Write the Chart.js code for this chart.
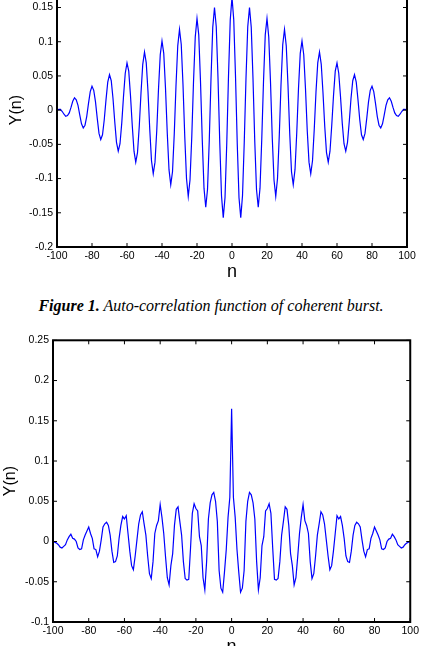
<!DOCTYPE html>
<html lang="en">
<head>
  <meta charset="UTF-8" />
  <title>Auto-correlation functions</title>
  <script src="https://cdn.jsdelivr.net/npm/chart.js@4.4.1/dist/chart.umd.min.js"></script>
  <style>
    html, body {margin: 0; padding: 0; background: #fff; width: 422px; height: 646px; overflow: hidden; position: relative;}
    .box {position: absolute; left: 0;}
    #topBox {top: -37px;}
    #bottomBox {top: 330px;}
    #caption {position: absolute; top: 296px; left: 0; width: 422px; text-align: center;
      font: italic 16px/19px "Liberation Serif", "Times New Roman", serif; color: #000;}
    #caption b {font-weight: bold;}
  </style>
</head>
<body>
  <div class="box" id="topBox"><canvas id="topChart" width="422" height="325"></canvas></div>
  <div id="caption"><b>Figure 1.</b> Auto-correlation function of coherent burst.</div>
  <div class="box" id="bottomBox"><canvas id="bottomChart" width="422" height="333"></canvas></div>

  <script>
    // tick values
    const xTicks = [-100, -80, -60, -40, -20, 0, 20, 40, 60, 80, 100];
    const yTicksTop = [-0.2, -0.15, -0.1, -0.05, 0, 0.05, 0.1, 0.15, 0.2];
    const yTicksBottom = [-0.1, -0.05, 0, 0.05, 0.1, 0.15, 0.2, 0.25];

    // lag n = -100 .. 100
    const lags = Array.from({length: 201}, (_, i) => i - 100);

    // Figure 1: coherent burst (n = -100 .. 100)
    const burstValues = [
      0.000, 0.001, 0.001, -0.002, -0.006, -0.009, -0.008, -0.004, 0.004, 0.013,
      0.018, 0.015, 0.007, -0.007, -0.020, -0.026, -0.022, -0.009, 0.010, 0.027,
      0.035, 0.029, 0.012, -0.012, -0.034, -0.043, -0.036, -0.014, 0.015, 0.041,
      0.052, 0.043, 0.017, -0.017, -0.047, -0.060, -0.049, -0.019, 0.020, 0.054,
      0.069, 0.057, 0.021, -0.022, -0.060, -0.076, -0.062, -0.024, 0.025, 0.067,
      0.085, 0.069, 0.027, -0.028, -0.074, -0.093, -0.076, -0.030, 0.031, 0.081,
      0.101, 0.083, 0.032, -0.033, -0.087, -0.109, -0.090, -0.035, 0.036, 0.094,
      0.118, 0.096, 0.037, -0.038, -0.100, -0.126, -0.102, -0.040, 0.041, 0.107,
      0.134, 0.110, 0.042, -0.043, -0.114, -0.142, -0.116, -0.045, 0.046, 0.121,
      0.150, 0.122, 0.047, -0.047, -0.125, -0.157, -0.128, -0.049, 0.050, 0.132,
      0.165,
      0.132, 0.050, -0.049, -0.128, -0.157, -0.125, -0.047, 0.047, 0.122, 0.150,
      0.121, 0.046, -0.045, -0.116, -0.142, -0.114, -0.043, 0.042, 0.110, 0.134,
      0.107, 0.041, -0.040, -0.102, -0.126, -0.100, -0.038, 0.037, 0.096, 0.118,
      0.094, 0.036, -0.035, -0.090, -0.109, -0.087, -0.033, 0.032, 0.083, 0.101,
      0.081, 0.031, -0.030, -0.076, -0.093, -0.074, -0.028, 0.027, 0.069, 0.085,
      0.067, 0.025, -0.024, -0.062, -0.076, -0.060, -0.022, 0.021, 0.057, 0.069,
      0.054, 0.020, -0.019, -0.049, -0.060, -0.047, -0.017, 0.017, 0.043, 0.052,
      0.041, 0.015, -0.014, -0.036, -0.043, -0.034, -0.012, 0.012, 0.029, 0.035,
      0.027, 0.010, -0.009, -0.022, -0.026, -0.020, -0.007, 0.007, 0.015, 0.018,
      0.013, 0.004, -0.004, -0.008, -0.009, -0.006, -0.002, 0.001, 0.001, 0.000
    ];

    // second figure (n = -100 .. 100)
    const secondValues = [
      0.000, -0.001, -0.002, -0.004, -0.007, -0.008, -0.006, -0.004, 0.002, 0.006,
      0.009, 0.004, 0.003, 0.000, -0.008, -0.010, -0.009, 0.002, 0.008, 0.013,
      0.018, 0.010, 0.004, -0.009, -0.010, -0.019, -0.012, 0.002, 0.018, 0.022,
      0.024, 0.020, 0.008, -0.012, -0.026, -0.025, -0.018, 0.004, 0.020, 0.031,
      0.028, 0.032, 0.010, -0.012, -0.030, -0.035, -0.018, 0.002, 0.022, 0.033,
      0.037, 0.022, 0.008, -0.018, -0.040, -0.046, -0.025, 0.010, 0.020, 0.026,
      0.046, 0.030, 0.010, -0.019, -0.045, -0.054, -0.030, -0.015, 0.020, 0.040,
      0.043, 0.025, 0.008, -0.025, -0.046, -0.048, -0.047, -0.008, 0.035, 0.047,
      0.041, 0.038, 0.006, -0.005, -0.045, -0.060, -0.025, 0.028, 0.048, 0.058,
      0.061, 0.050, 0.025, -0.036, -0.058, -0.063, -0.038, -0.010, 0.030, 0.055,
      0.165,
      0.055, 0.030, -0.010, -0.038, -0.063, -0.058, -0.036, 0.025, 0.050, 0.061,
      0.058, 0.048, 0.028, -0.025, -0.060, -0.045, -0.005, 0.006, 0.038, 0.041,
      0.047, 0.035, -0.008, -0.047, -0.048, -0.046, -0.025, 0.008, 0.025, 0.043,
      0.040, 0.020, -0.015, -0.030, -0.054, -0.045, -0.019, 0.010, 0.030, 0.046,
      0.026, 0.020, 0.010, -0.025, -0.046, -0.040, -0.018, 0.008, 0.022, 0.037,
      0.033, 0.022, 0.002, -0.018, -0.035, -0.030, -0.012, 0.010, 0.032, 0.028,
      0.031, 0.020, 0.004, -0.018, -0.025, -0.026, -0.012, 0.008, 0.020, 0.024,
      0.022, 0.018, 0.002, -0.012, -0.019, -0.010, -0.009, 0.004, 0.010, 0.018,
      0.013, 0.008, 0.002, -0.009, -0.010, -0.008, 0.000, 0.003, 0.004, 0.009,
      0.006, 0.002, -0.004, -0.006, -0.008, -0.007, -0.004, -0.002, -0.001, 0.000
    ];

    Chart.defaults.font.family = '"Liberation Sans", Arial, sans-serif';
    Chart.defaults.color = '#000';

    // matlab style box with inward ticks on all sides
    const boxPlugin = {
      id: 'boxFrame',
      afterDraw(chart) {
        const {ctx, chartArea: a, scales: {x, y}} = chart;
        ctx.save();
        ctx.strokeStyle = '#000';
        ctx.lineWidth = 1;
        ctx.beginPath();
        x.ticks.forEach(t => {
          const px = x.getPixelForValue(t.value);
          ctx.moveTo(px, a.bottom); ctx.lineTo(px, a.bottom - 4);
          ctx.moveTo(px, a.top); ctx.lineTo(px, a.top + 4);
        });
        y.ticks.forEach(t => {
          const py = y.getPixelForValue(t.value);
          ctx.moveTo(a.left, py); ctx.lineTo(a.left + 4, py);
          ctx.moveTo(a.right, py); ctx.lineTo(a.right - 4, py);
        });
        ctx.stroke();
        ctx.lineWidth = 2;
        ctx.strokeRect(a.left, a.top, a.right - a.left, a.bottom - a.top);
        ctx.restore();
      }
    };

    function drawChart(canvasId, values, yTicks, o) {
      return new Chart(document.getElementById(canvasId), {
        type: 'line',
        data: {
          datasets: [{
            data: lags.map((n, i) => ({x: n, y: values[i]})),
            borderColor: '#0000ff',
            borderWidth: 1.2,
            pointRadius: 0,
            tension: 0,
            fill: false
          }]
        },
        options: {
          responsive: false,
          animation: false,
          layout: {padding: {top: 10, right: o.right, left: 0, bottom: 0}},
          plugins: {legend: {display: false}, tooltip: {enabled: false}},
          scales: {
            x: {
              type: 'linear', min: -100, max: 100,
              afterBuildTicks: s => { s.ticks = xTicks.map(v => ({value: v})); },
              afterFit: s => { s.height = 41; },
              grid: {display: false, drawTicks: false},
              border: {display: false},
              ticks: {padding: 3, maxRotation: 0, autoSkip: false, font: {size: 10.5}},
              title: {display: true, text: 'n', font: {size: 18}, padding: {top: 0, bottom: 5}}
            },
            y: {
              min: yTicks[0], max: yTicks[yTicks.length - 1],
              afterBuildTicks: s => { s.ticks = yTicks.map(v => ({value: v})); },
              afterFit: s => { s.width = o.yWidth; },
              grid: {display: false, drawTicks: false},
              border: {display: false},
              ticks: {padding: 4, font: {size: 10.5}, callback: v => String(+v.toFixed(2))},
              title: {display: true, text: 'Y(n)', font: {size: 16}, padding: {top: o.titlePad, bottom: 0}}
            }
          }
        },
        plugins: [boxPlugin]
      });
    }

    drawChart('topChart', burstValues, yTicksTop, {yWidth: 57, right: 15, titlePad: 7});
    drawChart('bottomChart', secondValues, yTicksBottom, {yWidth: 53, right: 10, titlePad: 1});
  </script>
</body>
</html>
